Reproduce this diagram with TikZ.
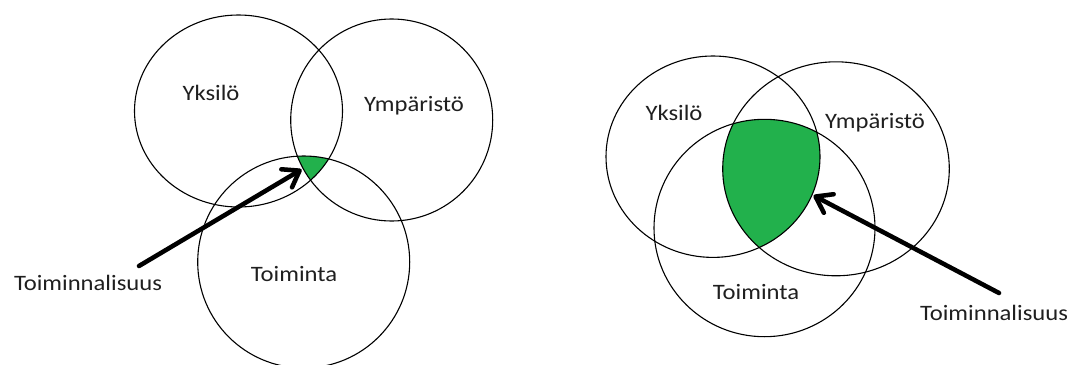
\documentclass[tikz,border=0pt]{standalone}
\usepackage{fontspec}
\newfontfamily\labelfont{Carlito}
\usetikzlibrary{arrows.meta}
\definecolor{venngreen}{RGB}{34,177,76}
\newcommand{\wide}[1]{\scalebox{1.12}[1]{#1}}
\begin{document}
\begin{tikzpicture}[x=1pt,y=-1pt,
  setline/.style={draw=black,line width=1.1pt},
  lbl/.style={font=\labelfont\fontsize{22}{26}\selectfont,anchor=base,inner sep=0pt,text=black!88},
  pointer/.style={line width=4.5pt,line cap=round,line join=round,
    -{Straight Barb[length=15pt,width=21pt,round]}},
  pointershadow/.style={pointer,draw=black!30,opacity=0.45}]
\useasboundingbox[fill=white] (0,0) rectangle (1075,364);

% ---------- left diagram: small common area ----------
\begin{scope}
  \clip (238.5,111) ellipse [x radius=104pt,y radius=96pt];
  \clip (391.7,120) circle [radius=101pt];
  \fill[venngreen] (303.7,262) circle [radius=106pt];
\end{scope}
\draw[setline] (238.5,111) ellipse [x radius=104pt,y radius=96pt];   % Yksilo
\draw[setline] (391.7,120) circle [radius=101pt];                     % Ymparisto
\draw[setline] (303.7,262) circle [radius=106pt];                     % Toiminta

\node[lbl] (yL) at (211,100) {\wide{Yksilö}};
\node[lbl] (eL) at (414,111.5) {\wide{Ympäristö}};
\node[lbl] (tL) at (294,281.5) {\wide{Toiminta}};
\node[lbl] (fL) at (88,290) {\wide{Toiminnalisuus}};

\coordinate (tailL) at (139,266);
\coordinate (tipL) at (301.5,169.5);
\begin{scope}[shift={(2,3)}]
  \draw[pointershadow] (tailL) -- (tipL);
\end{scope}
\draw[pointer] (tailL) -- (tipL);

% ---------- right diagram: large common area ----------
\begin{scope}
  \clip (713,156.7) ellipse [x radius=107pt,y radius=100.7pt];
  \clip (836,168.8) ellipse [x radius=113.3pt,y radius=107pt];
  \fill[venngreen] (764.5,228) ellipse [x radius=110.5pt,y radius=108.7pt];
\end{scope}
\draw[setline] (713,156.7) ellipse [x radius=107pt,y radius=100.7pt];     % Yksilo
\draw[setline] (836,168.8) ellipse [x radius=113.3pt,y radius=107pt];     % Ymparisto
\draw[setline] (764.5,228) ellipse [x radius=110.5pt,y radius=108.7pt];   % Toiminta

\node[lbl] (yR) at (674,120) {\wide{Yksilö}};
\node[lbl] (eR) at (875,128.3) {\wide{Ympäristö}};
\node[lbl] (tR) at (756,299.3) {\wide{Toiminta}};
\node[lbl] (fR) at (994,320.5) {\wide{Toiminnalisuus}};

\coordinate (tailR) at (999,293);
\coordinate (tipR) at (813.5,195.5);
\begin{scope}[shift={(2,3)}]
  \draw[pointershadow] (tailR) -- (tipR);
\end{scope}
\draw[pointer] (tailR) -- (tipR);
\end{tikzpicture}
\end{document}
